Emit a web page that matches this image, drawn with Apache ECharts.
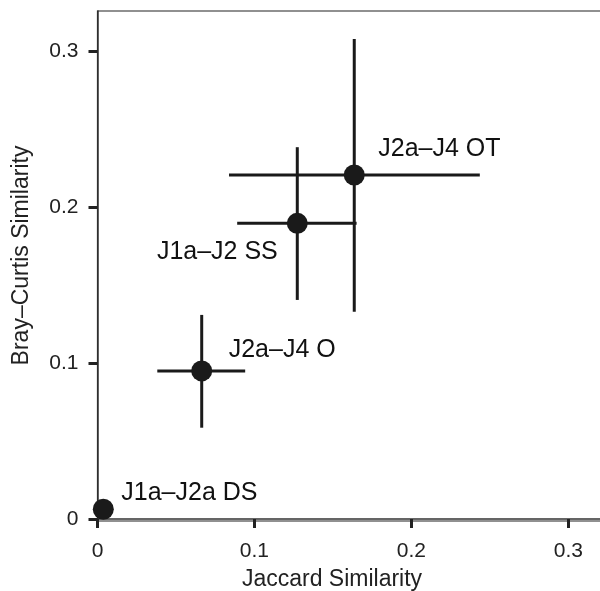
<!DOCTYPE html>
<html>
<head>
<meta charset="utf-8">
<script src="https://cdn.jsdelivr.net/npm/echarts@6/dist/echarts.min.js"></script>
<style>html,body{margin:0;padding:0;background:#fff}#c{width:600px;height:591px}</style>
</head>
<body>
<div id="c"></div>
<script>
const names = ['J1a\u2013J2a DS', 'J2a\u2013J4 O', 'J1a\u2013J2 SS', 'J2a\u2013J4 OT'];
const jaccard = [0.0037, 0.0664, 0.1273, 0.1636];
const jaccardLo = [0.0037, 0.0381, 0.0890, 0.0838];
const jaccardHi = [0.0037, 0.0941, 0.1651, 0.2436];
const bray = [0.0062, 0.0949, 0.1895, 0.2205];
const brayLo = [0.0062, 0.0585, 0.1404, 0.1329];
const brayHi = [0.0062, 0.1308, 0.2383, 0.3077];
const tickValues = [0, 0.1, 0.2, 0.3];

// label styling (placement relative to marker)
const labelStyle = [
  { align: 'left', offset: [18, -16] },
  { align: 'left', offset: [27, -21] },
  { align: 'right', offset: [-19.5, 29] },
  { align: 'left', offset: [24, -26] }
];

const FONT = 'Liberation Sans, Arial, Helvetica, sans-serif';
const chart = echarts.init(document.getElementById('c'), null, { renderer: 'canvas' });

const errData = names.map((n, i) => [jaccard[i], bray[i], jaccardLo[i], jaccardHi[i], brayLo[i], brayHi[i]]);
const ptData = names.map((n, i) => ({
  value: [jaccard[i], bray[i]],
  name: n,
  label: {
    show: true, position: 'inside', formatter: n,
    align: labelStyle[i].align, verticalAlign: 'middle',
    offset: labelStyle[i].offset,
    color: '#111', fontSize: 25, fontFamily: FONT
  }
}));

const fmt = v => (Math.abs(v) < 1e-9 ? '0' : v.toFixed(1));

chart.setOption({
  animation: false,
  backgroundColor: '#fff',
  grid: {
    left: 97.5, top: 11, width: 511, height: 510,
    containLabel: false, outerBoundsMode: 'none',
    show: true, borderColor: '#222', borderWidth: 1.2, backgroundColor: 'transparent'
  },
  xAxis: {
    type: 'value', min: 0, max: 0.3256,
    name: 'Jaccard Similarity', nameLocation: 'middle', nameGap: 47,
    nameTextStyle: { fontSize: 23, color: '#222', fontFamily: FONT, padding: [0, 42, 0, 0] },
    axisLine: { show: true, lineStyle: { color: '#333', width: 1.5 } },
    axisTick: { show: true, length: 9, lineStyle: { color: '#222', width: 3 }, customValues: tickValues },
    axisLabel: { fontSize: 21, color: '#222', fontFamily: FONT, margin: 20, customValues: tickValues, formatter: fmt },
    splitLine: { show: false }
  },
  yAxis: {
    type: 'value', min: -0.0013, max: 0.3256,
    name: 'Bray\u2013Curtis Similarity', nameLocation: 'middle', nameGap: 64,
    nameTextStyle: { fontSize: 23, color: '#222', fontFamily: FONT, padding: [0, 0, 0, 21] },
    axisLine: { show: true, lineStyle: { color: '#333', width: 1.5 } },
    axisTick: { show: true, length: 9, lineStyle: { color: '#222', width: 3 }, customValues: tickValues },
    axisLabel: { fontSize: 21, color: '#222', fontFamily: FONT, margin: 19, customValues: tickValues, formatter: fmt },
    splitLine: { show: false }
  },
  series: [
    {
      type: 'custom',
      data: errData,
      encode: { x: [0, 2, 3], y: [1, 4, 5] },
      renderItem: function (params, api) {
        const c = api.coord([api.value(0), api.value(1)]);
        const l = api.coord([api.value(2), api.value(1)]);
        const r = api.coord([api.value(3), api.value(1)]);
        const lo = api.coord([api.value(0), api.value(4)]);
        const hi = api.coord([api.value(0), api.value(5)]);
        const st = { stroke: '#1a1a1a', lineWidth: 3 };
        return {
          type: 'group',
          children: [
            { type: 'line', shape: { x1: l[0], y1: c[1], x2: r[0], y2: c[1] }, style: st },
            { type: 'line', shape: { x1: c[0], y1: lo[1], x2: c[0], y2: hi[1] }, style: st }
          ]
        };
      },
      z: 2
    },
    {
      type: 'scatter',
      data: ptData,
      symbol: 'circle', symbolSize: 21,
      itemStyle: { color: '#1a1a1a', opacity: 1 },
      z: 3
    }
  ]
});
</script>
</body>
</html>
